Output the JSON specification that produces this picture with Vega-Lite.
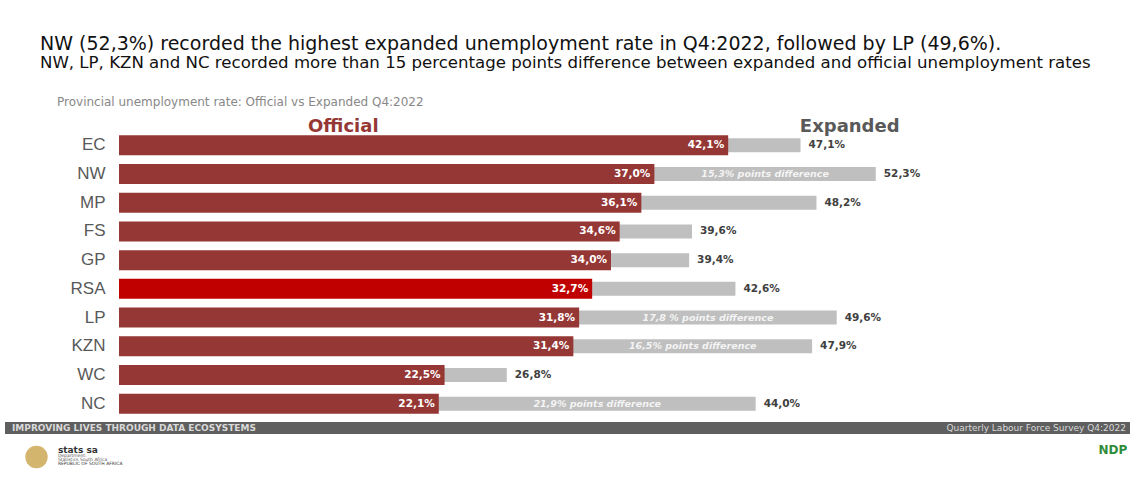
{
  "$schema": "https://vega.github.io/schema/vega-lite/v6.json",
  "background": "white",
  "padding": {"left": 5, "top": 34, "right": 0, "bottom": 0},
  "title": {
    "text": "NW (52,3%) recorded the highest expanded unemployment rate in Q4:2022, followed by LP (49,6%).",
    "subtitle": "NW, LP, KZN and NC recorded more than 15 percentage points difference between expanded and official unemployment rates",
    "anchor": "start",
    "dx": 35,
    "font": "DejaVu Sans",
    "fontSize": 19,
    "fontWeight": "normal",
    "color": "#111111",
    "subtitleFont": "DejaVu Sans",
    "subtitleFontSize": 16.6,
    "subtitleColor": "#111111",
    "subtitlePadding": 1,
    "offset": 25
  },
  "spacing": 4,
  "config": {"view": {"stroke": null}},
  "vconcat": [
    {
      "width": 1125,
      "height": 287,
      "title": {
        "text": "Provincial unemployment rate: Official vs Expanded Q4:2022",
        "anchor": "start",
        "dx": 52,
        "font": "DejaVu Sans",
        "fontSize": 12,
        "fontWeight": "normal",
        "color": "#888888",
        "offset": 9
      },
      "data": {
        "values": [
          {"province": "EC", "official": 42.1, "expanded": 47.1, "off_label": "42,1%", "exp_label": "47,1%", "diff": ""},
          {"province": "NW", "official": 37.0, "expanded": 52.3, "off_label": "37,0%", "exp_label": "52,3%", "diff": "15,3% points difference"},
          {"province": "MP", "official": 36.1, "expanded": 48.2, "off_label": "36,1%", "exp_label": "48,2%", "diff": ""},
          {"province": "FS", "official": 34.6, "expanded": 39.6, "off_label": "34,6%", "exp_label": "39,6%", "diff": ""},
          {"province": "GP", "official": 34.0, "expanded": 39.4, "off_label": "34,0%", "exp_label": "39,4%", "diff": ""},
          {"province": "RSA", "official": 32.7, "expanded": 42.6, "off_label": "32,7%", "exp_label": "42,6%", "diff": ""},
          {"province": "LP", "official": 31.8, "expanded": 49.6, "off_label": "31,8%", "exp_label": "49,6%", "diff": "17,8 % points difference"},
          {"province": "KZN", "official": 31.4, "expanded": 47.9, "off_label": "31,4%", "exp_label": "47,9%", "diff": "16,5%  points difference"},
          {"province": "WC", "official": 22.5, "expanded": 26.8, "off_label": "22,5%", "exp_label": "26,8%", "diff": ""},
          {"province": "NC", "official": 22.1, "expanded": 44.0, "off_label": "22,1%", "exp_label": "44,0%", "diff": "21,9% points difference"}
        ]
      },
      "encoding": {
        "y": {
          "field": "province",
          "type": "nominal",
          "sort": null,
          "scale": {"paddingInner": 0, "paddingOuter": 0},
          "axis": {
            "title": null,
            "ticks": false,
            "domain": false,
            "labelFont": "Liberation Sans",
            "labelFontSize": 17,
            "labelColor": "#595959",
            "labelAlign": "right",
            "labelPadding": -100
          }
        }
      },
      "layer": [
        {
          "mark": {"type": "bar", "size": 14, "color": "#bfbfbf"},
          "encoding": {
            "x": {"field": "expanded", "type": "quantitative", "scale": {"domain": [-7.88, 69.87], "nice": false}, "axis": null}
          }
        },
        {
          "mark": {"type": "rule", "color": "#e3e3e3", "strokeWidth": 1},
          "encoding": {
            "x": {"datum": 0, "type": "quantitative"}
          }
        },
        {
          "mark": {"type": "bar", "size": 20},
          "encoding": {
            "x": {"field": "official", "type": "quantitative"},
            "color": {
              "condition": {"test": "datum.province === 'RSA'", "value": "#c00000"},
              "value": "#953735"
            }
          }
        },
        {
          "mark": {"type": "text", "align": "right", "baseline": "middle", "dx": -4, "font": "DejaVu Sans", "fontSize": 10.5, "fontWeight": "bold", "color": "white"},
          "encoding": {
            "x": {"field": "official", "type": "quantitative"},
            "text": {"field": "off_label"}
          }
        },
        {
          "mark": {"type": "text", "align": "left", "baseline": "middle", "dx": 8, "font": "DejaVu Sans", "fontSize": 10.5, "fontWeight": "bold", "color": "#404040"},
          "encoding": {
            "x": {"field": "expanded", "type": "quantitative"},
            "text": {"field": "exp_label"}
          }
        },
        {
          "transform": [
            {"filter": "datum.diff !== ''"},
            {"calculate": "(datum.official + datum.expanded) / 2", "as": "mid"}
          ],
          "mark": {"type": "text", "align": "center", "baseline": "middle", "font": "DejaVu Sans", "fontSize": 9.5, "fontStyle": "italic", "fontWeight": "bold", "color": "#f4f4f4"},
          "encoding": {
            "x": {"field": "mid", "type": "quantitative"},
            "text": {"field": "diff"}
          }
        },
        {
          "data": {
            "values": [
              {"province": "EC", "at": 15.5, "label": "Official"},
              {"province": "EC", "at": 50.5, "label": "Expanded"}
            ]
          },
          "mark": {"type": "text", "align": "center", "baseline": "middle", "dy": -18, "font": "DejaVu Sans", "fontSize": 18, "fontWeight": "bold"},
          "encoding": {
            "y": {"field": "province", "type": "nominal"},
            "x": {"field": "at", "type": "quantitative"},
            "text": {"field": "label"},
            "color": {
              "condition": {"test": "datum.label === 'Official'", "value": "#953735"},
              "value": "#595959"
            }
          }
        }
      ]
    },
    {
      "width": 1125,
      "height": 12,
      "view": {"fill": "#5f5f5f", "stroke": null},
      "data": {
        "values": [
          {"side": 0, "label": "IMPROVING LIVES THROUGH DATA ECOSYSTEMS"},
          {"side": 1, "label": "Quarterly Labour Force Survey Q4:2022"}
        ]
      },
      "layer": [
        {
          "transform": [{"filter": "datum.side === 0"}],
          "mark": {"type": "text", "align": "left", "baseline": "middle", "dx": 7, "font": "DejaVu Sans", "fontSize": 9, "fontWeight": "bold", "color": "#d9d9d9"},
          "encoding": {
            "x": {"field": "side", "type": "quantitative", "scale": {"domain": [0, 1]}, "axis": null},
            "y": {"value": 6},
            "text": {"field": "label"}
          }
        },
        {
          "transform": [{"filter": "datum.side === 1"}],
          "mark": {"type": "text", "align": "right", "baseline": "middle", "dx": -4, "font": "DejaVu Sans", "fontSize": 9, "fontWeight": "normal", "color": "#d9d9d9"},
          "encoding": {
            "x": {"field": "side", "type": "quantitative", "scale": {"domain": [0, 1]}, "axis": null},
            "y": {"value": 6},
            "text": {"field": "label"}
          }
        }
      ]
    },
    {
      "width": 1125,
      "height": 40,
      "data": {
        "values": [
          {"pos": 0.047, "line": 0, "label": "stats sa", "color": "#333333", "size": 9},
          {"pos": 0.047, "line": 1, "label": "Department:", "color": "#555555", "size": 4.5},
          {"pos": 0.047, "line": 2, "label": "Statistics South Africa", "color": "#555555", "size": 4.5},
          {"pos": 0.047, "line": 3, "label": "REPUBLIC OF SOUTH AFRICA", "color": "#333333", "size": 4.5},
          {"pos": 0.972, "line": 0, "label": "NDP", "color": "#2e8b3a", "size": 12}
        ]
      },
      "layer": [
        {
          "data": {"values": [{"pos": 0.028}]},
          "mark": {"type": "point", "filled": true, "shape": "circle", "size": 500, "color": "#c9a24a", "opacity": 0.8},
          "encoding": {
            "x": {"field": "pos", "type": "quantitative", "scale": {"domain": [0, 1]}, "axis": null},
            "y": {"value": 19}
          }
        },
        {
          "transform": [{"filter": "datum.line === 0"}],
          "mark": {"type": "text", "align": "left", "baseline": "middle", "font": "DejaVu Sans", "fontWeight": "bold"},
          "encoding": {
            "x": {"field": "pos", "type": "quantitative", "scale": {"domain": [0, 1]}, "axis": null},
            "y": {"value": 12},
            "text": {"field": "label"},
            "color": {"field": "color", "type": "nominal", "scale": null, "legend": null},
            "size": {"field": "size", "type": "quantitative", "scale": null, "legend": null}
          }
        },
        {
          "transform": [{"filter": "datum.line > 0"}],
          "mark": {"type": "text", "align": "left", "baseline": "middle", "font": "DejaVu Sans"},
          "encoding": {
            "x": {"field": "pos", "type": "quantitative", "scale": {"domain": [0, 1]}, "axis": null},
            "y": {"field": "line", "type": "quantitative", "scale": {"domain": [0, 4], "range": [14, 30]}, "axis": null},
            "text": {"field": "label"},
            "color": {"field": "color", "type": "nominal", "scale": null, "legend": null},
            "size": {"field": "size", "type": "quantitative", "scale": null, "legend": null}
          }
        }
      ]
    }
  ]
}
